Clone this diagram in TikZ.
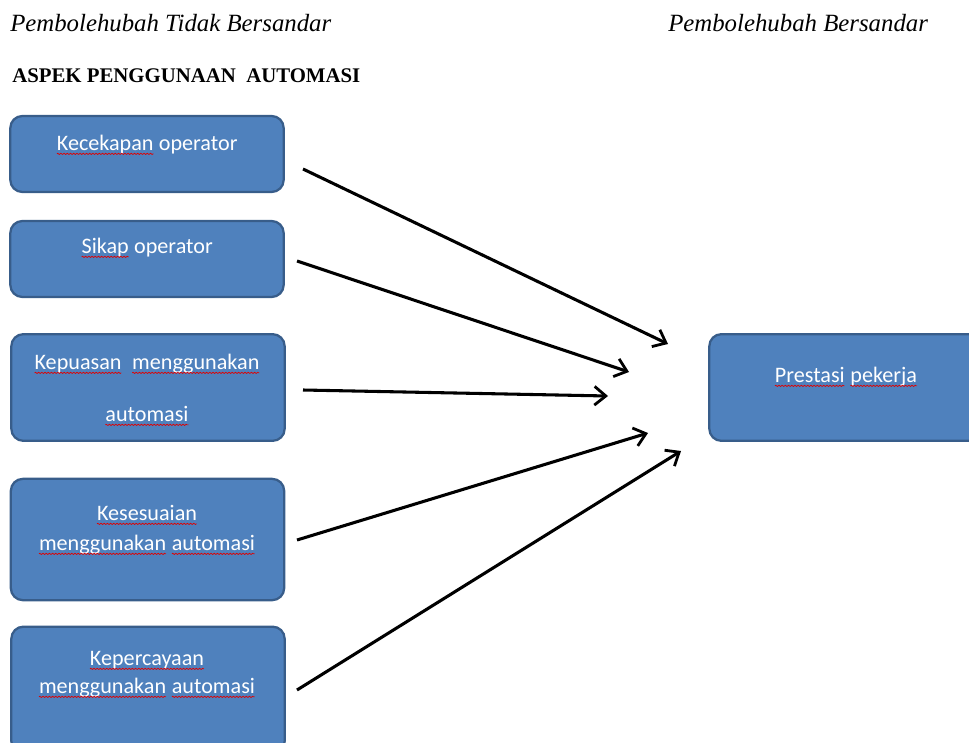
\documentclass[tikz,border=0pt]{standalone}
\usepackage{fontspec}
\usepackage{xcolor}
\setmainfont{Liberation Serif}
\newfontfamily\boxfont{Carlito}
\usetikzlibrary{arrows.meta,positioning,decorations.pathmorphing}
\definecolor{kotak}{HTML}{4F81BD}
\definecolor{tepi}{HTML}{385D8A}
\definecolor{ejaan}{HTML}{E00000}
\newcommand\salah[1]{\tikz[baseline=(w.base)]{\node[inner sep=0pt, outer sep=0pt] (w) {#1};
  \draw[ejaan, line width=0.55pt, decorate, decoration={zigzag, segment length=2.4pt, amplitude=0.45pt}] ([yshift=-2.9pt]w.base west) -- ([yshift=-2.9pt]w.base east);}}

\begin{document}
\begin{tikzpicture}[x=0.75pt,y=-0.75pt]
  \tikzset{kotak style/.style = {draw=tepi, fill=kotak, line width=1.7pt, rounded corners=9pt, minimum width=205pt, inner sep=0pt},
           teks style/.style = {font=\boxfont\fontsize{16.6}{19}\selectfont, text=white, anchor=base, inner sep=0pt},
           anak panah/.style = {line width=2.3pt, -{Straight Barb[length=8.5pt,width=14pt,line width=2.1pt]}}}
  \useasboundingbox (0,0) rectangle (969,742);

  % tajuk
  \node[anchor=base west, inner sep=0pt, font=\fontsize{18.6}{20}\selectfont\itshape] (tb) at (10,32) {Pembolehubah Tidak Bersandar};
  \node[anchor=base west, inner sep=0pt, font=\fontsize{18.6}{20}\selectfont\itshape] (b) at (668,32) {Pembolehubah Bersandar};
  \node[anchor=base west, inner sep=0pt, font=\fontsize{15.6}{17}\selectfont\bfseries] (aspek) at (12,82) {ASPEK PENGGUNAAN\ \ AUTOMASI};

  % kotak kiri
  \node[kotak style, minimum height=57pt] (k1) at (147,154) {};
  \node[kotak style, minimum height=57pt] (k2) at (147,259) {};
  \node[kotak style, minimum height=80pt] (k3) at (148,387.5) {};
  \node[kotak style, minimum height=91pt] (k4) at (147.5,539.5) {};
  \node[kotak style, minimum height=95pt] (k5) at (148,690) {};
  % kotak kanan
  \node[kotak style, minimum height=80pt] (p) at (846,387.5) {};

  \node[teks style] (t1) at (147,150) {\salah{Kecekapan} operator};
  \node[teks style] (t2) at (147,253) {\salah{Sikap} operator};
  \node[teks style] (t3a) at (147,369) {\salah{Kepuasan}\ \ \salah{menggunakan}};
  \node[teks style] (t3b) at (147,421) {\salah{automasi}};
  \node[teks style] (t4a) at (147,520) {\salah{Kesesuaian}};
  \node[teks style] (t4b) at (147,550) {\salah{menggunakan} \salah{automasi}};
  \node[teks style] (t5a) at (147,665) {\salah{Kepercayaan}};
  \node[teks style] (t5b) at (147,693) {\salah{menggunakan} \salah{automasi}};
  \node[teks style] (tp) at (846,382) {\salah{Prestasi} \salah{pekerja}};

  % anak panah
  \coordinate (a1) at (303,169);  \coordinate (h1) at (668,344);
  \coordinate (a2) at (297,261);  \coordinate (h2) at (629,372);
  \coordinate (a3) at (303,390);  \coordinate (h3) at (608,396);
  \coordinate (a4) at (297,540);  \coordinate (h4) at (648,433);
  \coordinate (a5) at (297,690);  \coordinate (h5) at (681,451);
  \foreach \i in {1,...,5}
    \draw[anak panah] (a\i) -- (h\i);
\end{tikzpicture}
\end{document}
